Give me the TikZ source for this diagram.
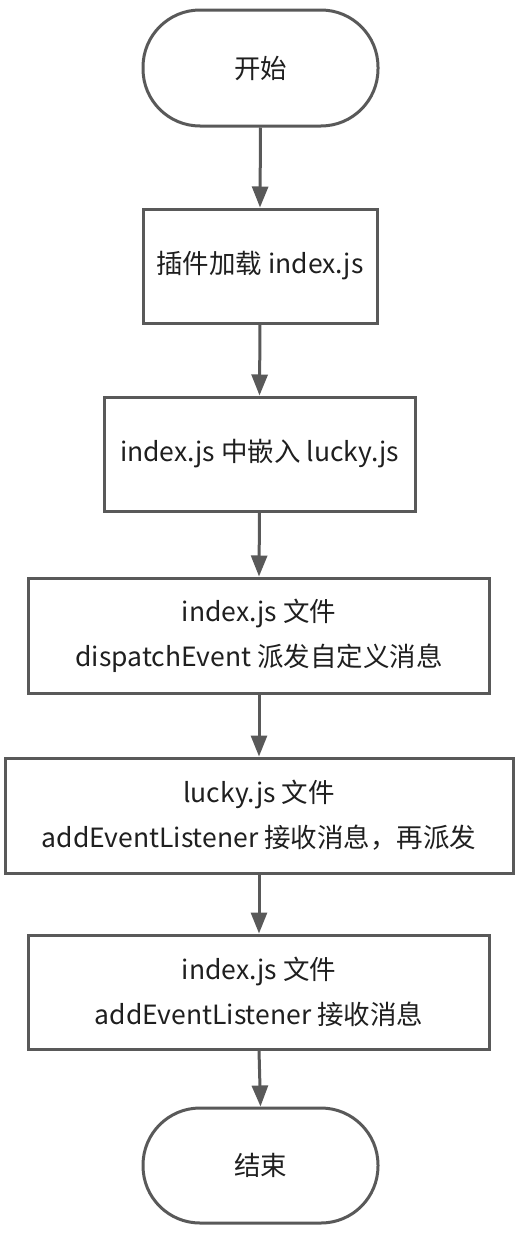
\documentclass[tikz,border=0pt]{standalone}
\usepackage{fontspec}
\setmainfont{Noto Sans CJK SC}
\usetikzlibrary{arrows.meta}
\definecolor{edge}{HTML}{595959}
\definecolor{ink}{HTML}{1F1F1F}
\tikzset{
  base/.style={draw=edge, line width=3pt, fill=white, text=ink, align=center, inner sep=0pt,
    font=\fontsize{26.5}{45}\selectfont},
  term/.style={base, rounded corners=57pt},
  proc/.style={base},
  conn/.style={draw=edge, line width=3pt, -{Triangle[length=21pt,width=16pt]}},
}
\begin{document}
\begin{tikzpicture}[x=1pt,y=-1pt]
\useasboundingbox (0,0) rectangle (526,1234);
\node[term, minimum width=235pt, minimum height=116pt] (start) at (260.5,68) {开始};
\node[proc, minimum width=234pt, minimum height=114pt] (b1) at (260,266) {插件加载 index.js};
\node[proc, minimum width=311pt, minimum height=114pt] (b2) at (259.5,454) {index.js 中嵌入 lucky.js};
\node[proc, minimum width=461pt, minimum height=115pt] (b3) at (259,635.5) {index.js 文件\\dispatchEvent 派发自定义消息};
\node[proc, minimum width=508pt, minimum height=115pt] (b4) at (259,815.5) {lucky.js 文件\\addEventListener 接收消息，再派发};
\node[proc, minimum width=461pt, minimum height=114pt] (b5) at (259,992) {index.js 文件\\addEventListener 接收消息};
\node[term, minimum width=235pt, minimum height=115pt] (end) at (260.5,1165.5) {结束};
\draw[conn] (start.south) -- (b1.north);
\draw[conn] (b1.south) -- (b2.north);
\draw[conn] (b2.south) -- (b3.north);
\draw[conn] (b3.south) -- (b4.north);
\draw[conn] (b4.south) -- (b5.north);
\draw[conn] (b5.south) -- (end.north);
\end{tikzpicture}
\end{document}
